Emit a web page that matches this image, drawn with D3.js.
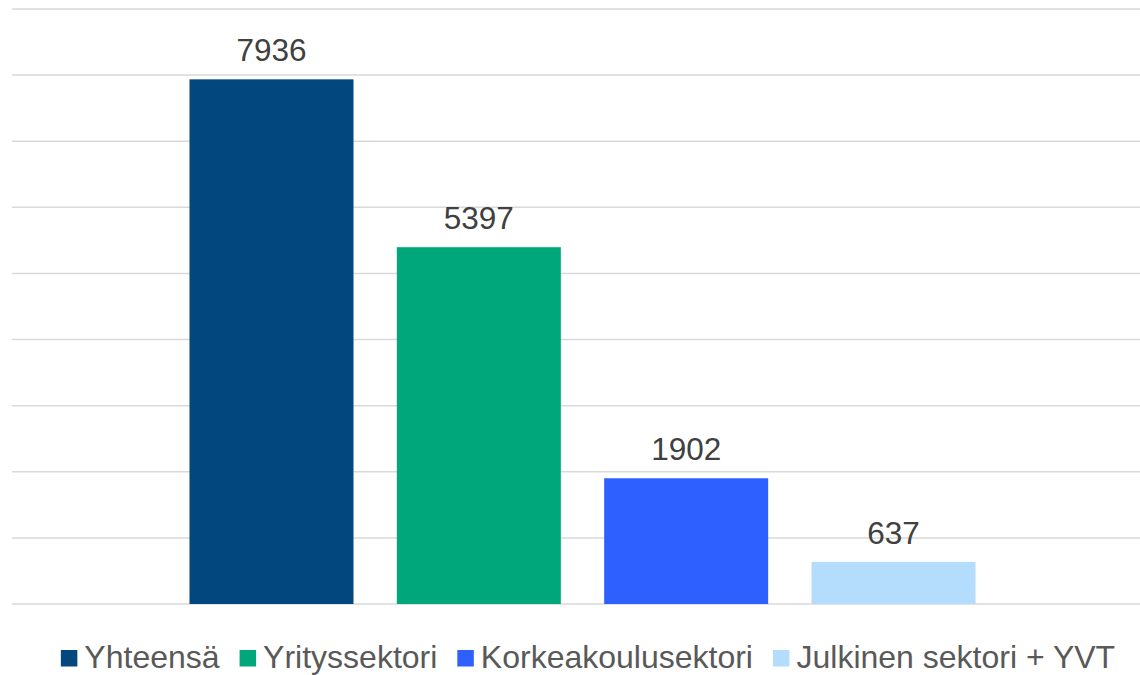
<!DOCTYPE html>
<html>
<head>
<meta charset="utf-8">
<script src="https://cdn.jsdelivr.net/npm/d3@7"></script>
<style>
  html, body { margin: 0; padding: 0; background: #ffffff; }
  svg { display: block; font-family: "Liberation Sans", Arial, sans-serif; }
</style>
</head>
<body>
<div id="chart"></div>
<script>
// data
const categories = ['Yhteensä'];
const series = ['Yhteensä', 'Yrityssektori', 'Korkeakoulusektori', 'Julkinen sektori + YVT'];
const values = [7936, 5397, 1902, 637];
const gridTicks = [0, 1000, 2000, 3000, 4000, 5000, 6000, 7000, 8000, 9000];
const colors = ['#03477F', '#00A77A', '#2E5FFF', '#B4DCFD'];

const width = 1140;
const height = 675;
const margin = { top: 9, right: -13, bottom: 71, left: 12 };

const svg = d3.select('#chart')
    .append('svg')
    .attr('width', width)
    .attr('height', height);

// scales
const yScale = d3.scaleLinear()
    .domain([0, 9000])
    .range([height - margin.bottom, margin.top]);

const xCat = d3.scaleBand()
    .domain(categories)
    .range([margin.left, width - margin.right])
    .paddingOuter(0.2258)
    .paddingInner(0);

const xSeries = d3.scaleBand()
    .domain(series)
    .range([xCat(categories[0]), xCat(categories[0]) + xCat.bandwidth()])
    .paddingInner(0.209)
    .paddingOuter(0);

// gridlines
svg.append('g')
    .attr('class', 'grid')
    .selectAll('line')
    .data(gridTicks)
    .join('line')
    .attr('x1', margin.left)
    .attr('x2', width)
    .attr('y1', d => yScale(d))
    .attr('y2', d => yScale(d))
    .attr('stroke', '#d9d9d9')
    .attr('stroke-width', 1.5);

// bars
const rows = series.map((s, i) => ({ key: s, value: values[i], color: colors[i] }));

svg.append('g')
    .selectAll('rect')
    .data(rows)
    .join('rect')
    .attr('x', d => xSeries(d.key))
    .attr('y', d => yScale(d.value))
    .attr('width', xSeries.bandwidth())
    .attr('height', d => yScale(0) - yScale(d.value))
    .attr('fill', d => d.color);

// value labels
svg.append('g')
    .selectAll('text')
    .data(rows)
    .join('text')
    .attr('x', d => xSeries(d.key) + xSeries.bandwidth() / 2)
    .attr('y', d => yScale(d.value) - 18)
    .attr('text-anchor', 'middle')
    .attr('font-size', '31.5px')
    .attr('fill', '#404040')
    .text(d => d.value);

// legend
const legend = svg.append('g').attr('class', 'legend');
const sq = 16.5, sqGap = 7, itemGap = 20, legendY = 667.5, legendCenter = 588;
const items = legend.selectAll('g')
    .data(rows)
    .join('g');
items.append('rect')
    .attr('width', sq)
    .attr('height', sq)
    .attr('y', legendY - 17.5)
    .attr('fill', d => d.color);
items.append('text')
    .attr('x', sq + sqGap)
    .attr('y', legendY)
    .attr('font-size', '32px')
    .attr('fill', '#595959')
    .text(d => d.key);

let xPos = 0;
const offsets = [];
items.each(function () {
    offsets.push(xPos);
    const w = d3.select(this).select('text').node().getComputedTextLength();
    xPos += sq + sqGap + w + itemGap;
});
const totalWidth = xPos - itemGap;
const startX = legendCenter - totalWidth / 2;
items.attr('transform', (d, i) => `translate(${startX + offsets[i]},0)`);
</script>
</body>
</html>
